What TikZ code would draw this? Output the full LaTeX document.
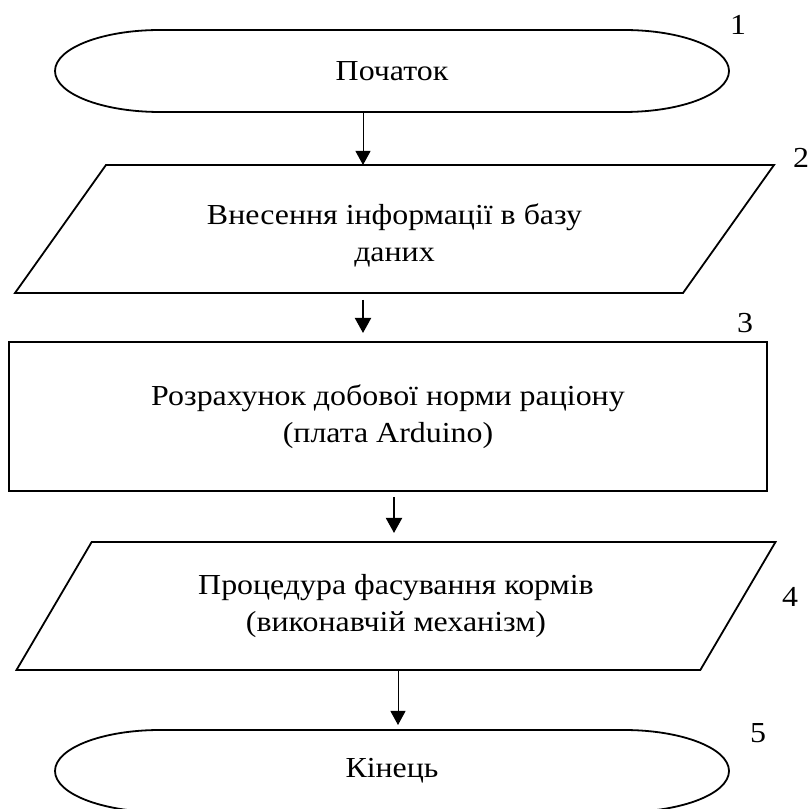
\documentclass[tikz,border=0pt]{standalone}
\usepackage{fontspec}
\setmainfont{Liberation Serif}[FakeStretch=1.1]
\usetikzlibrary{shapes.geometric,arrows.meta,calc}
\begin{document}
\begin{tikzpicture}[x=1pt,y=1pt,
  every node/.style={font=\fontsize{29}{37}\selectfont},
  outline/.style={line width=1.8pt},
  terminal/.style={minimum width=674pt, minimum height=82pt, inner sep=0pt, outer sep=0pt},
  iobox/.style={trapezium, trapezium left angle=40.1, trapezium right angle=139.9,
    trapezium stretches body=true, minimum width=759pt, minimum height=128pt,
    draw, outline, inner sep=0pt, outer sep=0pt, align=center},
  procbox/.style={rectangle, draw, outline, minimum width=758pt, minimum height=149pt,
    inner sep=0pt, outer sep=0pt, align=center},
  thinarrow/.style={line width=1pt, -{Triangle[length=14pt,width=15pt]}},
  thickarrow/.style={line width=2pt, -{Triangle[length=15pt,width=16pt]}},
  tag/.style={inner sep=0pt}
]
\useasboundingbox (0,0) rectangle (812,809);
\clip (0,0) rectangle (812,809);

% terminal ends are half-ellipses
\def\rx{105pt}
\def\ry{41pt}

% start terminal
\node[terminal] (t1) at (392,738) {Початок};
\draw[outline] ([xshift=\rx]t1.north west) -- ([xshift=-\rx]t1.north east)
  arc[start angle=90, end angle=-90, x radius=\rx, y radius=\ry]
  -- ([xshift=\rx]t1.south west)
  arc[start angle=270, end angle=90, x radius=\rx, y radius=\ry] -- cycle;

% data input (strut on the first line sets the text a little lower)
\node[iobox] (p2) at (394.5,580) {\rule{0pt}{34pt}Внесення інформації в базу\\даних};

% processing step
\node[procbox] (r3) at (388,392.5) {Розрахунок добової норми раціону\\(плата Arduino)};

% output step
\node[iobox] (p4) at (396,203) {Процедура фасування кормів\\(виконавчій механізм)};

% end terminal
\node[terminal] (t5) at (392,38) {Кінець};
\draw[outline] ([xshift=\rx]t5.north west) -- ([xshift=-\rx]t5.north east)
  arc[start angle=90, end angle=-90, x radius=\rx, y radius=\ry]
  -- ([xshift=\rx]t5.south west)
  arc[start angle=270, end angle=90, x radius=\rx, y radius=\ry] -- cycle;

% step numbers
\node[tag] (n1) at (738,784) {1};
\node[tag] (n2) at (801,651) {2};
\node[tag] (n3) at (745,486) {3};
\node[tag] (n4) at (790,212) {4};
\node[tag] (n5) at (758,76) {5};

% connector columns
\coordinate (c1) at (363,0);
\coordinate (c3) at (394,0);
\coordinate (c4) at (398,0);

\draw[thinarrow] (t1.south -| c1) -- (p2.north -| c1);
\draw[thickarrow, shorten <=7pt, shorten >=9pt] (p2.south -| c1) -- (r3.north -| c1);
\draw[thickarrow, shorten <=6pt, shorten >=9pt] (r3.south -| c3) -- (p4.north -| c3);
\draw[thinarrow, shorten >=5pt] (p4.south -| c4) -- (t5.north -| c4);
\end{tikzpicture}
\end{document}
